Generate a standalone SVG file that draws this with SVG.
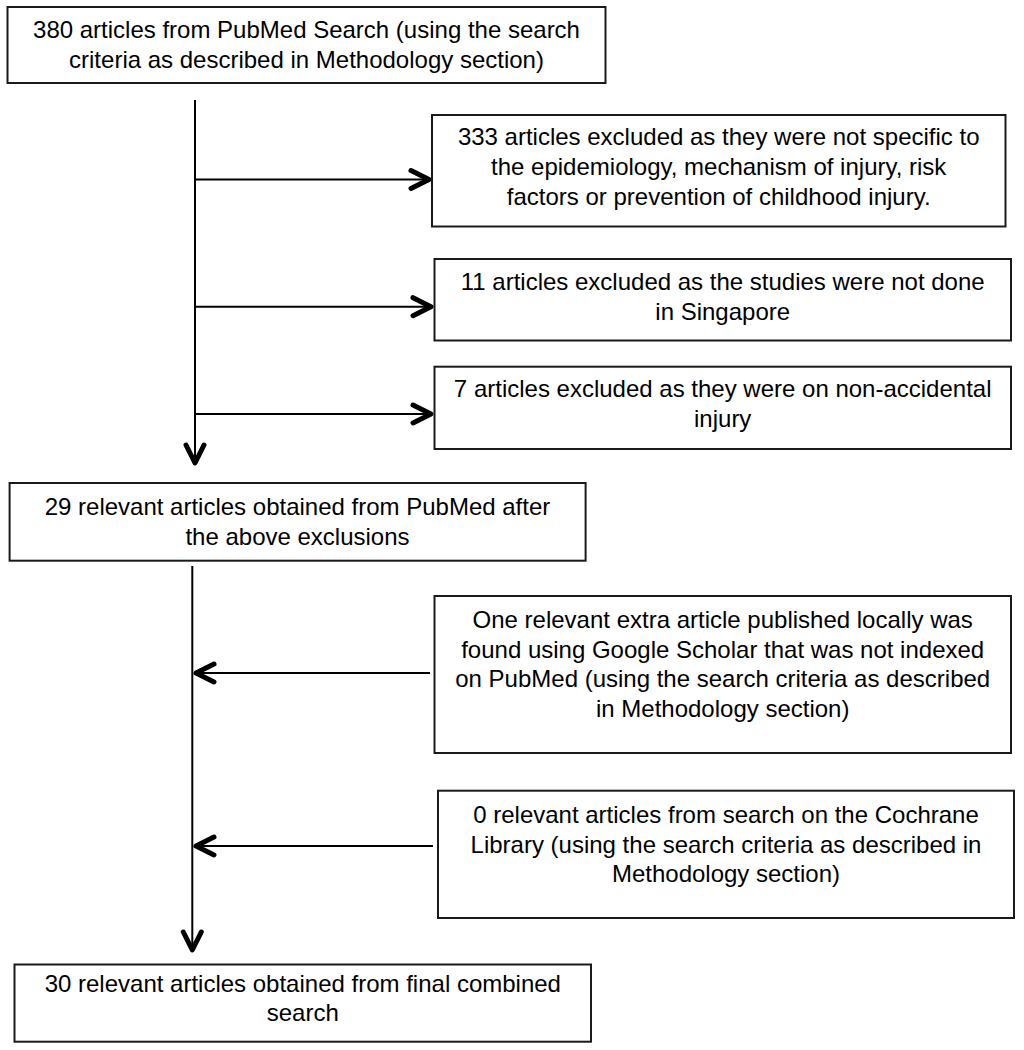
<svg xmlns="http://www.w3.org/2000/svg" width="1024" height="1050" viewBox="0 0 1024 1050">
  <style>
    .box { fill: #ffffff; stroke: #1a1a1a; stroke-width: 2; }
    .t { font-family: "Liberation Sans", Arial, sans-serif; font-size: 24px; fill: #000000; text-anchor: middle; }
    .ln { stroke: #000000; stroke-width: 2; fill: none; }
  </style>
  <defs>
    <marker id="arr" markerUnits="userSpaceOnUse" markerWidth="40" markerHeight="40" refX="0" refY="0" orient="auto" overflow="visible" viewBox="-30 -20 40 40">
      <path d="M -18 -9 L 0 0 L -18 9" fill="none" stroke="#000000" stroke-width="5" stroke-linejoin="round" stroke-linecap="round"/>
    </marker>
  </defs>
  <rect width="1024" height="1050" fill="#ffffff"/>

  <g id="connectors">
    <line class="ln" x1="195" y1="100" x2="195" y2="463" marker-end="url(#arr)"/>
    <line class="ln" x1="195" y1="179.5" x2="429" y2="179.5" marker-end="url(#arr)"/>
    <line class="ln" x1="195" y1="306.7" x2="431" y2="306.7" marker-end="url(#arr)"/>
    <line class="ln" x1="195" y1="414" x2="431" y2="414" marker-end="url(#arr)"/>
    <line class="ln" x1="192.3" y1="566" x2="192.3" y2="950" marker-end="url(#arr)"/>
    <line class="ln" x1="430" y1="673" x2="196" y2="673" marker-end="url(#arr)"/>
    <line class="ln" x1="433" y1="846" x2="196" y2="846" marker-end="url(#arr)"/>
  </g>

  <g id="n1">
    <rect class="box" x="7.5" y="7" width="598" height="76"/>
    <text class="t" x="306.5" y="38">380 articles from PubMed Search (using the search</text>
    <text class="t" x="306.5" y="68">criteria as described in Methodology section)</text>
  </g>

  <g id="n2">
    <rect class="box" x="432" y="115" width="573.5" height="111.5"/>
    <text class="t" x="718.7" y="145">333 articles excluded as they were not specific to</text>
    <text class="t" x="718.7" y="175">the epidemiology, mechanism of injury, risk</text>
    <text class="t" x="718.7" y="205">factors or prevention of childhood injury.</text>
  </g>

  <g id="n3">
    <rect class="box" x="434.5" y="259" width="576.5" height="81.5"/>
    <text class="t" x="722.7" y="290">11 articles excluded as the studies were not done</text>
    <text class="t" x="722.7" y="320">in Singapore</text>
  </g>

  <g id="n4">
    <rect class="box" x="434.5" y="366.7" width="576.5" height="82.3"/>
    <text class="t" x="722.7" y="396.7">7 articles excluded as they were on non-accidental</text>
    <text class="t" x="722.7" y="426.7">injury</text>
  </g>

  <g id="n5">
    <rect class="box" x="9.6" y="483" width="576" height="77.7"/>
    <text class="t" x="297.5" y="515">29 relevant articles obtained from PubMed after</text>
    <text class="t" x="297.5" y="545">the above exclusions</text>
  </g>

  <g id="n6">
    <rect class="box" x="434.5" y="596" width="576.5" height="157"/>
    <text class="t" x="722.7" y="628">One relevant extra article published locally was</text>
    <text class="t" x="722.7" y="658">found using Google Scholar that was not indexed</text>
    <text class="t" x="722.7" y="687">on PubMed (using the search criteria as described</text>
    <text class="t" x="722.7" y="717">in Methodology section)</text>
  </g>

  <g id="n7">
    <rect class="box" x="438" y="790.7" width="576" height="127.3"/>
    <text class="t" x="726" y="823">0 relevant articles from search on the Cochrane</text>
    <text class="t" x="726" y="853">Library (using the search criteria as described in</text>
    <text class="t" x="726" y="882">Methodology section)</text>
  </g>

  <g id="n8">
    <rect class="box" x="14.5" y="964.5" width="576.5" height="77.2"/>
    <text class="t" x="302.8" y="991.7">30 relevant articles obtained from final combined</text>
    <text class="t" x="302.8" y="1020.7">search</text>
  </g>
</svg>
